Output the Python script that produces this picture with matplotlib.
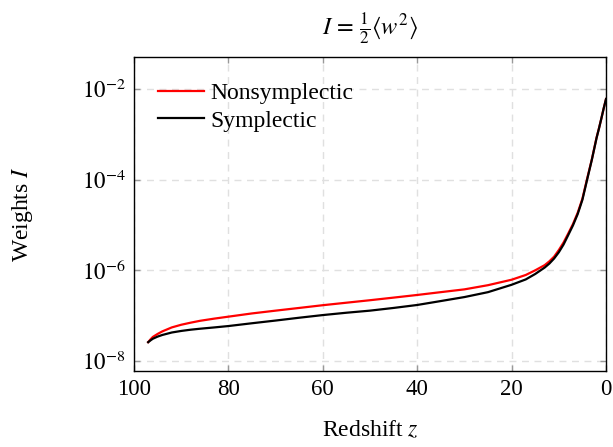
"""Wagi I w funkcji przesuniecia ku czerwieni"""

import math
from matplotlib import pyplot as plt
from matplotlib import ticker

z_red = [97, 96.5, 96, 95, 94, 92, 90, 88, 86, 83, 80, 75, 70, 65, 60, 55,
         50, 45, 40, 35, 30, 25, 20, 17, 15, 13, 12, 11, 10, 9, 8, 7, 6, 5,
         4, 3, 2, 1.5, 1, 0.5, 0]
I_red = [2.6e-8, 3.0e-8, 3.4e-8, 3.95e-8, 4.5e-8, 5.5e-8, 6.3e-8, 7.0e-8,
         7.7e-8, 8.6e-8, 9.5e-8, 1.12e-7, 1.29e-7, 1.48e-7, 1.70e-7,
         1.93e-7, 2.19e-7, 2.50e-7, 2.86e-7, 3.3e-7, 3.8e-7, 4.7e-7,
         6.2e-7, 7.9e-7, 1.0e-6, 1.3e-6, 1.58e-6, 2.0e-6, 2.8e-6, 4.1e-6,
         6.5e-6, 1.05e-5, 1.86e-5, 3.8e-5, 1.05e-4, 2.8e-4, 8.5e-4,
         1.35e-3, 2.2e-3, 3.7e-3, 6.0e-3]

z_sym = [97, 96.5, 96, 95, 94, 92, 90, 88, 86, 83, 80, 75, 70, 65, 60, 55,
         50, 45, 40, 35, 30, 25, 20, 17, 15, 13, 12, 11, 10, 9, 8, 7, 6, 5,
         4, 3, 2, 1.5, 1, 0.5, 0]
I_sym = [2.6e-8, 2.85e-8, 3.1e-8, 3.45e-8, 3.75e-8, 4.25e-8, 4.6e-8,
         4.9e-8, 5.15e-8, 5.5e-8, 5.9e-8, 6.8e-8, 7.8e-8, 9.0e-8, 1.03e-7,
         1.16e-7, 1.29e-7, 1.48e-7, 1.72e-7, 2.1e-7, 2.57e-7, 3.3e-7,
         4.8e-7, 6.3e-7, 8.3e-7, 1.15e-6, 1.41e-6, 1.82e-6, 2.5e-6, 3.7e-6,
         6.0e-6, 9.8e-6, 1.74e-5, 3.6e-5, 1.0e-4, 2.75e-4, 8.3e-4,
         1.33e-3, 2.2e-3, 3.7e-3, 6.0e-3]

plt.rcParams["font.family"] = "Liberation Serif"
plt.rcParams["mathtext.fontset"] = "stix"
plt.rcParams["font.size"] = 16

fig = plt.figure(figsize=(6.13, 4.47), dpi=100, facecolor="white")
ax = fig.add_axes([0.2186, 0.1707, 0.77, 0.7025])

ax.plot(z_red, I_red, color="#ff0000", lw=1.6, label="Nonsymplectic")
ax.plot(z_sym, I_sym, color="black", lw=1.6, label="Symplectic")

ax.set_yscale("log")
ax.set_xlim(100, 0)
ax.set_ylim(10**-8.214, 10**-1.288)
ax.xaxis.set_major_locator(ticker.FixedLocator([100, 80, 60, 40, 20, 0]))
ax.yaxis.set_major_locator(ticker.FixedLocator([1e-8, 1e-6, 1e-4, 1e-2]))
ax.yaxis.set_minor_locator(ticker.NullLocator())
ax.yaxis.set_major_formatter(ticker.FuncFormatter(
    lambda v, p: r"$10^{%d}$" % round(math.log10(v))))

ax.tick_params(direction="in", length=4.5, width=1, color="#999999",
               top=True, right=True, labelsize=16.5, pad=6)
for s in ax.spines.values():
    s.set_linewidth(1)

ax.grid(True, linestyle=(0, (5, 4)), color="#e0e0e0", lw=1)
ax.set_axisbelow(True)

ax.set_title(r"$I\,=\,\frac{1}{2}\langle w^2\rangle$", fontsize=17.5, pad=16)
ax.set_xlabel(r"Redshift $z$", labelpad=14, fontsize=17)
ax.set_ylabel(r"Weights $I$", labelpad=34, fontsize=17)
ax.legend(loc="upper left", frameon=False, handlelength=1.95,
          handletextpad=0.3, labelspacing=0.25, borderaxespad=0.5,
          fontsize=17, bbox_to_anchor=(0.005, 0.985))

fig.savefig("out.png", dpi=100)
